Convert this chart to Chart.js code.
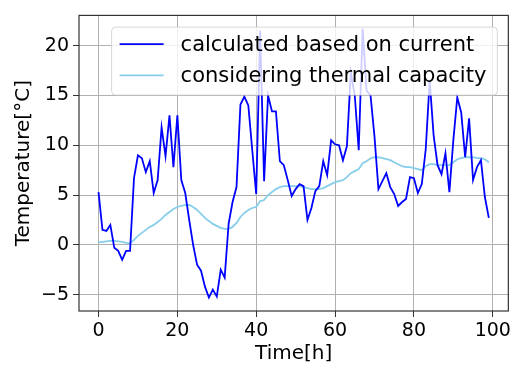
<!DOCTYPE html>
<html><head><meta charset="utf-8">
<script src="https://cdn.jsdelivr.net/npm/chart.js@4/dist/chart.umd.min.js"></script>
<style>html,body{margin:0;padding:0;background:#fff;}canvas{display:block;}</style>
</head><body>
<canvas id="c" width="514" height="370"></canvas>
<script>
const hours = [0,1,2,3,4,5,6,7,8,9,10,11,12,13,14,15,16,17,18,19,20,21,22,23,24,25,26,27,28,29,30,31,32,33,34,35,36,37,38,39,40,41,42,43,44,45,46,47,48,49,50,51,52,53,54,55,56,57,58,59,60,61,62,63,64,65,66,67,68,69,70,71,72,73,74,75,76,77,78,79,80,81,82,83,84,85,86,87,88,89,90,91,92,93,94,95,96,97,98,99];
const currentBased = [5.3,1.5,1.4,2.0,-0.3,-0.6,-1.5,-0.6,-0.6,6.7,9.0,8.7,7.3,8.4,5.2,6.5,11.8,8.9,13.0,7.8,13.0,6.5,5.2,2.5,0.0,-2.0,-2.6,-4.2,-5.3,-4.5,-5.2,-2.5,-3.3,2.1,4.3,5.8,14.1,14.9,14.0,9.5,5.1,21.5,6.4,15.0,13.4,13.4,8.4,8.0,6.5,4.9,5.6,6.1,5.9,2.5,3.7,5.4,5.9,8.4,7.0,10.5,10.1,10.0,8.5,9.9,17.3,15.0,9.5,21.7,15.5,15.0,10.9,5.6,6.4,7.2,5.8,5.1,3.9,4.3,4.6,6.8,6.7,5.2,6.1,9.6,16.5,11.0,8.0,7.1,9.2,5.3,10.5,14.8,13.3,8.8,12.7,6.5,7.8,8.5,4.8,2.7];
const thermalCapacity = [0.25,0.3,0.35,0.4,0.4,0.35,0.3,0.2,0.15,0.5,0.9,1.2,1.5,1.8,2.0,2.3,2.6,3.0,3.3,3.6,3.8,3.9,4.0,4.0,3.8,3.5,3.1,2.7,2.4,2.1,1.9,1.7,1.6,1.6,1.8,2.2,2.8,3.2,3.5,3.7,3.8,4.4,4.5,5.0,5.3,5.6,5.8,5.9,5.9,5.9,5.9,5.9,5.8,5.7,5.6,5.6,5.6,5.7,5.9,6.1,6.3,6.4,6.5,6.8,7.2,7.4,7.6,8.2,8.4,8.7,8.8,8.8,8.7,8.6,8.5,8.3,8.1,7.9,7.8,7.8,7.7,7.6,7.5,7.9,8.1,8.1,8.0,8.0,8.0,8.0,8.3,8.6,8.7,8.8,8.8,8.8,8.7,8.7,8.6,8.3];
const xTicks = [0,20,40,60,80,100];
const yTicks = [-5,0,5,10,15,20];
const seriesLabels = ['calculated based on current','considering thermal capacity'];

const FONT = 'DejaVu Sans';
const frameAndLegend = {
  id:'frameAndLegend',
  afterDatasetsDraw(chart){
    const ctx = chart.ctx, a = chart.chartArea;
    ctx.save();
    ctx.font = '21px "' + FONT + '"';
    const tw = Math.max(...chart.data.datasets.map(d => ctx.measureText(d.label).width));
    const w = 69 + tw + 11, h = 68;
    const x = a.right - 11 - w, y = a.top + 11.7;
    const r = 4;
    ctx.beginPath();
    ctx.moveTo(x+r,y); ctx.lineTo(x+w-r,y); ctx.arcTo(x+w,y,x+w,y+r,r);
    ctx.lineTo(x+w,y+h-r); ctx.arcTo(x+w,y+h,x+w-r,y+h,r);
    ctx.lineTo(x+r,y+h); ctx.arcTo(x,y+h,x,y+h-r,r);
    ctx.lineTo(x,y+r); ctx.arcTo(x,y,x+r,y,r); ctx.closePath();
    ctx.fillStyle = 'rgba(255,255,255,0.8)'; ctx.fill();
    ctx.strokeStyle = 'rgba(204,204,204,0.8)'; ctx.lineWidth = 1; ctx.stroke();
    chart.data.datasets.forEach((d,i) => {
      const cy = y + 17 + i*31.3;
      ctx.beginPath(); ctx.moveTo(x+8, cy); ctx.lineTo(x+52, cy);
      ctx.strokeStyle = d.borderColor; ctx.lineWidth = d.borderWidth; ctx.stroke();
      ctx.fillStyle = '#000'; ctx.textBaseline = 'middle'; ctx.textAlign = 'left';
      ctx.fillText(d.label, x+69, cy+1);
    });
    ctx.strokeStyle = '#333'; ctx.lineWidth = 1.2;
    ctx.strokeRect(a.left, a.top, a.right-a.left, a.bottom-a.top);
    ctx.restore();
  }
};

const tickFont = {family: FONT, size: 19};
const titleFont = {family: FONT, size: 20};
new Chart(document.getElementById('c'), {
  type: 'line',
  data: {
    datasets: [
      {label: seriesLabels[0], data: hours.map((h,i)=>({x:h, y:currentBased[i]})), borderColor:'#0000ff', borderWidth:1.8, pointRadius:0, tension:0, fill:false},
      {label: seriesLabels[1], data: hours.map((h,i)=>({x:h, y:thermalCapacity[i]})), borderColor:'#87ceeb', borderWidth:1.8, pointRadius:0, tension:0, fill:false}
    ]
  },
  options: {
    responsive:false, animation:false, devicePixelRatio:1,
    layout:{padding:{left:0, top:4, right:3, bottom:0}},
    plugins:{legend:{display:false}, tooltip:{enabled:false}},
    scales:{
      x:{type:'linear', min:-4.95, max:103.95,
        afterBuildTicks: s => { s.ticks = xTicks.map(v=>({value:v})); },
        afterFit: s => { s.height = 59; },
        grid:{color:'#b0b0b0', lineWidth:1, tickColor:'#333', tickLength:6, drawTicks:true},
        border:{display:false},
        ticks:{font:tickFont, color:'#000', padding:3, maxRotation:0, callback: v => String(v).replace('-','\u2212')},
        title:{display:true, text:'Time[h]', font:titleFont, color:'#000', padding:{top:0,bottom:4}}
      },
      y:{type:'linear', min:-6.65, max:23.05,
        afterBuildTicks: s => { s.ticks = yTicks.map(v=>({value:v})); },
        afterFit: s => { s.width = 79; },
        grid:{color:'#b0b0b0', lineWidth:1, tickColor:'#333', tickLength:6, drawTicks:true},
        border:{display:false},
        ticks:{font:tickFont, color:'#000', padding:4, callback: v => String(v).replace('-','\u2212')},
        title:{display:true, text:'Temperature[°C]', font:titleFont, color:'#000', padding:{top:12,bottom:0}}
      }
    }
  },
  plugins:[frameAndLegend]
});
</script>
</body></html>
